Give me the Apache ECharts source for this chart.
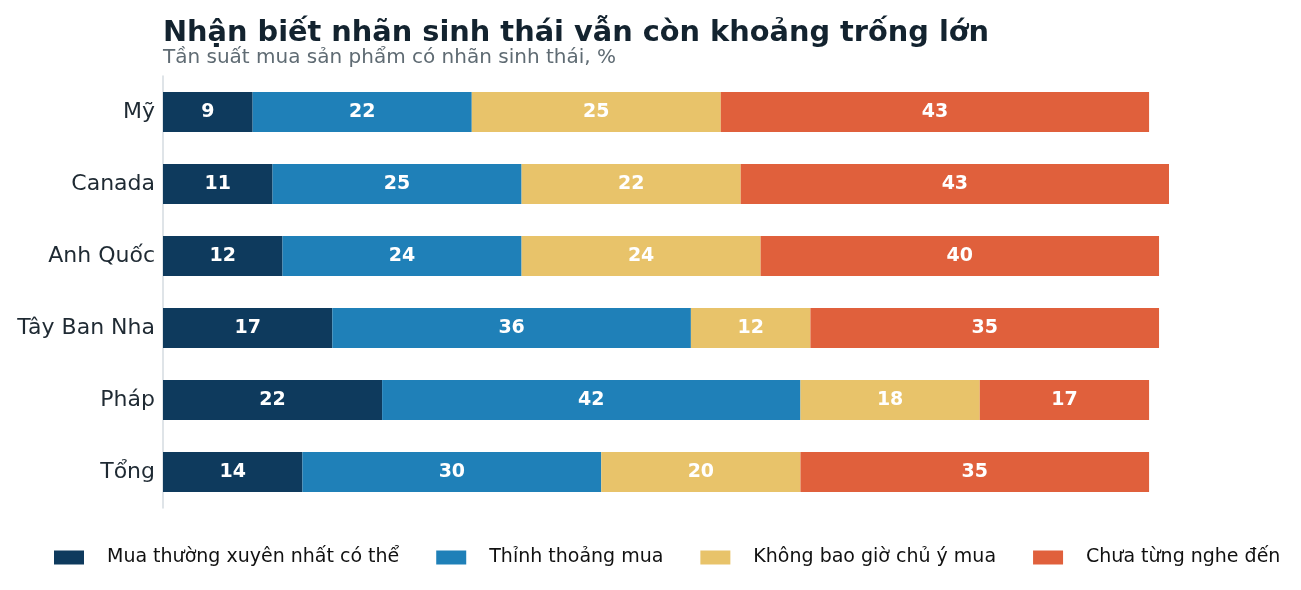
<!DOCTYPE html>
<html><head><meta charset="utf-8">
<script src="https://cdn.jsdelivr.net/npm/echarts@6/dist/echarts.min.js"></script>
<style>html,body{margin:0;padding:0;background:#fff}#c{width:1301px;height:590px}</style>
</head><body><div id="c"></div>
<script>
const categories = ["Mỹ","Canada","Anh Quốc","Tây Ban Nha","Pháp","Tổng"];
const seriesNames = ["Mua thường xuyên nhất có thể","Thỉnh thoảng mua","Không bao giờ chủ ý mua","Chưa từng nghe đến"];
const often = [9,11,12,17,22,14];
const sometimes = [22,25,24,36,42,30];
const never = [25,22,24,12,18,20];
const notHeard = [43,43,40,35,17,35];
const colors = ["#0e3a5d","#1f80b8","#e8c36a","#e0603c"];
const values = [often, sometimes, never, notHeard];
const font = "DejaVu Sans";
const chart = echarts.init(document.getElementById('c'));
chart.setOption({
  animation:false,
  textStyle:{fontFamily:font},
  title:{
    text:"Nhận biết nhãn sinh thái vẫn còn khoảng trống lớn",
    subtext:"Tần suất mua sản phẩm có nhãn sinh thái, %",
    left:158, top:14, itemGap:0,
    textStyle:{fontFamily:font,fontSize:28.8,fontWeight:'bold',color:"#13232f"},
    subtextStyle:{fontFamily:font,fontSize:20,color:"#5f6b73"}
  },
  legend:{
    top:543, left:49, itemWidth:30, itemHeight:14, itemGap:37,
    icon:'rect',
    textStyle:{fontFamily:font,fontSize:19,color:"#111",padding:[0,0,0,18]},
    data:seriesNames
  },
  grid:{left:163, right:132, top:76, height:432, containLabel:false},
  xAxis:{type:'value', min:0, max:101, show:false},
  yAxis:{type:'category', data:categories, inverse:true,
    axisLine:{show:true,lineStyle:{color:"#d5dbe0",width:1.5}},
    axisTick:{show:false},
    axisLabel:{fontFamily:font,fontSize:22,color:"#1f2a33",margin:8,padding:[4,0,0,0]}
  },
  series: seriesNames.map((n,i)=>({
    name:n, type:'bar', stack:'total', data:values[i], barWidth:40,
    itemStyle:{color:colors[i]},
    label:{show:true, position:'inside', color:'#fff', fontFamily:font, fontSize:19, fontWeight:'bold'}
  }))
});
</script></body></html>
